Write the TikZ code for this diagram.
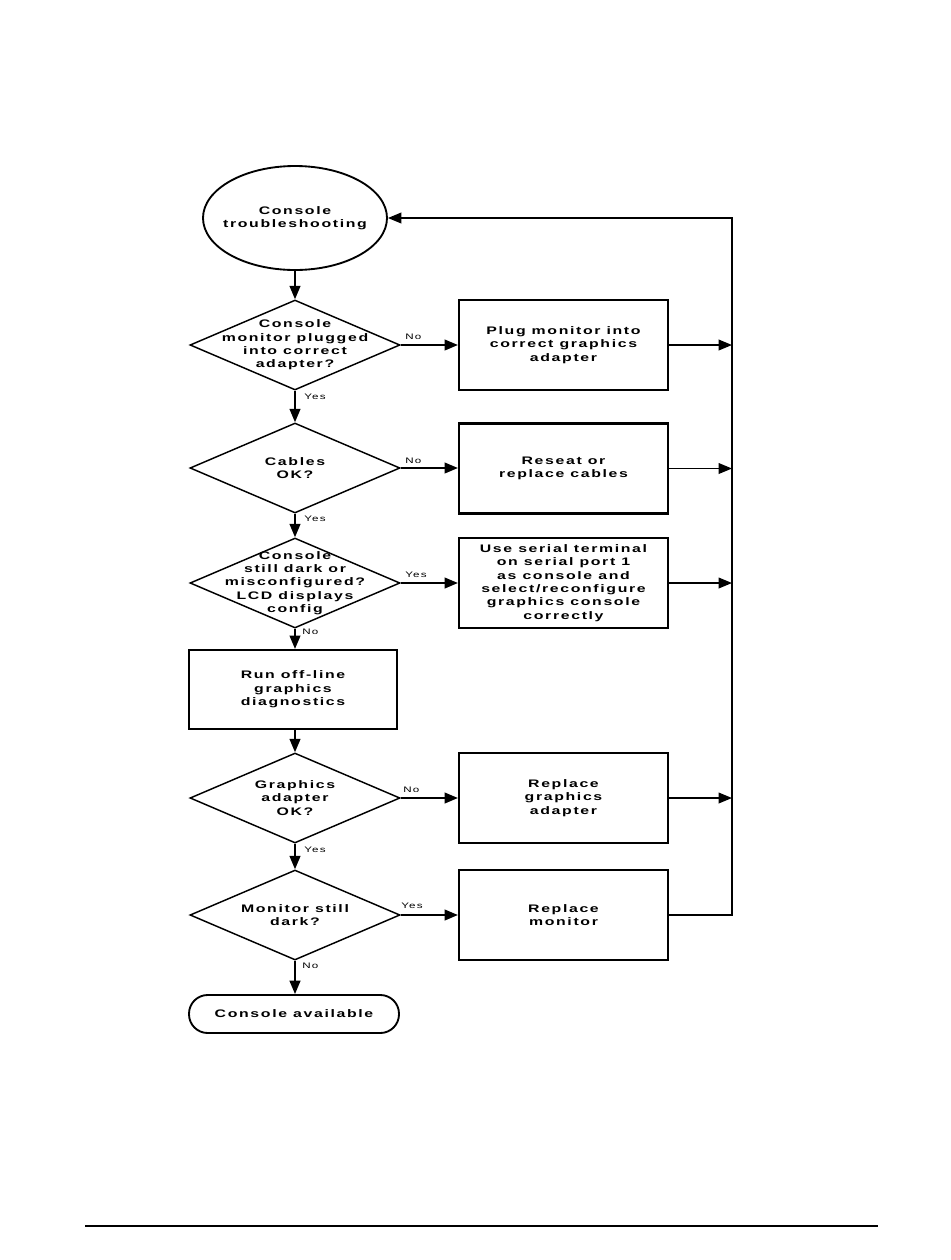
\documentclass[tikz,border=0pt]{standalone}
\usepackage{fontspec}
\newfontfamily\flowfont{Liberation Sans}[FakeStretch=1.45,LetterSpace=15]
\usetikzlibrary{arrows.meta,shapes.geometric}
\begin{document}
\begin{tikzpicture}[x=0.75pt,y=-0.75pt,
  every node/.style={font=\flowfont\bfseries\fontsize{8.2}{10}\selectfont, align=center, inner sep=0pt},
  stepbox/.style={draw, line width=1.6pt, minimum width=156.75pt, minimum height=67.5pt},
  decision/.style={draw, diamond, line width=1.1pt, minimum width=157.5pt, minimum height=67.5pt},
  flow/.style={line width=1.5pt, -{Triangle[length=10pt,width=8pt]}},
  retarrow/.style={line width=1.1pt, -{Triangle[length=10pt,width=8pt]}},
  lbl/.style={font=\flowfont\fontsize{6}{7}\selectfont}]
\useasboundingbox (0,0) rectangle (950,1260);

% nodes
\node[draw, ellipse, line width=1.4pt, minimum width=138pt, minimum height=78pt, label={center:Console\\troubleshooting}] (start) at (295,218) {};
\node[decision, label={center:Console\\monitor plugged\\into correct\\adapter?}] (d1) at (295,345) {};
\node[stepbox] (b1) at (563.5,345) {Plug monitor into\\correct graphics\\adapter};
\node[decision, label={center:Cables\\OK?}] (d2) at (295,468) {};
\node[stepbox] (b2) at (563.5,468.5) {Reseat or\\replace cables};
\node[decision, label={center:Console\\still dark or\\misconfigured?\\LCD displays\\config}] (d3) at (295,583) {};
\node[stepbox] (b3) at (563.5,583) {Use serial terminal\\on serial port 1\\as console and\\select/reconfigure\\graphics console\\correctly};
\node[stepbox, minimum width=156pt, minimum height=59.25pt] (run) at (293,689.5) {Run off-line\\graphics\\diagnostics};
\node[decision, label={center:Graphics\\adapter\\OK?}] (d4) at (295,798) {};
\node[stepbox] (b4) at (563.5,798) {Replace\\graphics\\adapter};
\node[decision, label={center:Monitor still\\dark?}] (d5) at (295,915) {};
\node[stepbox] (b5) at (563.5,915) {Replace\\monitor};
\node[draw, line width=1.4pt, rounded corners=14pt, minimum width=157.5pt, minimum height=28.5pt] (stop) at (294,1014) {Console available};

% vertical flow
\draw[flow] (start.south) -- (d1.north);
\draw[flow] (d1.south) -- (d2.north);
\draw[flow] (d2.south) -- (d3.north);
\draw[flow] (d3.south) -- (d3.south |- run.north);
\draw[flow] (d4.north |- run.south) -- (d4.north);
\draw[flow] (d4.south) -- (d5.north);
\draw[flow] (d5.south) -- (d5.south |- stop.north);

% horizontal flow
\draw[flow] (d1.east) -- (b1.west);
\draw[flow] (d2.east) -- (d2.east -| b2.west);
\draw[flow] (d3.east) -- (b3.west);
\draw[flow] (d4.east) -- (b4.west);
\draw[flow] (d5.east) -- (b5.west);

% labels
\node[lbl, anchor=west] (l1y) at (304,397) {Yes};
\node[lbl, anchor=west] (l2y) at (304,519) {Yes};
\node[lbl, anchor=west] (l3n) at (302,632) {No};
\node[lbl, anchor=west] (l4y) at (304,850) {Yes};
\node[lbl, anchor=west] (l5n) at (302,966) {No};
\node[lbl, anchor=west] (l1n) at (405,337) {No};
\node[lbl, anchor=west] (l2n) at (405,461) {No};
\node[lbl, anchor=west] (l3y) at (405,575) {Yes};
\node[lbl, anchor=west] (l4n) at (403,790) {No};
\node[lbl, anchor=west] (l5y) at (401,906) {Yes};

% return path
\coordinate (rtop) at (732,218);
\coordinate (rbot) at (732,915);
\draw[retarrow] (b1.east) -- (b1.east -| rtop);
\draw[retarrow] (b2.east) -- (b2.east -| rtop);
\draw[retarrow] (b3.east) -- (b3.east -| rtop);
\draw[retarrow] (b4.east) -- (b4.east -| rtop);
\draw[retarrow] (b5.east) -- (rbot) -- (rtop) -- (start.east);

% footer rule
\coordinate (fl) at (85,1226);
\coordinate (fr) at (878,1226);
\draw[line width=1.1pt] (fl) -- (fr);
\end{tikzpicture}
\end{document}
